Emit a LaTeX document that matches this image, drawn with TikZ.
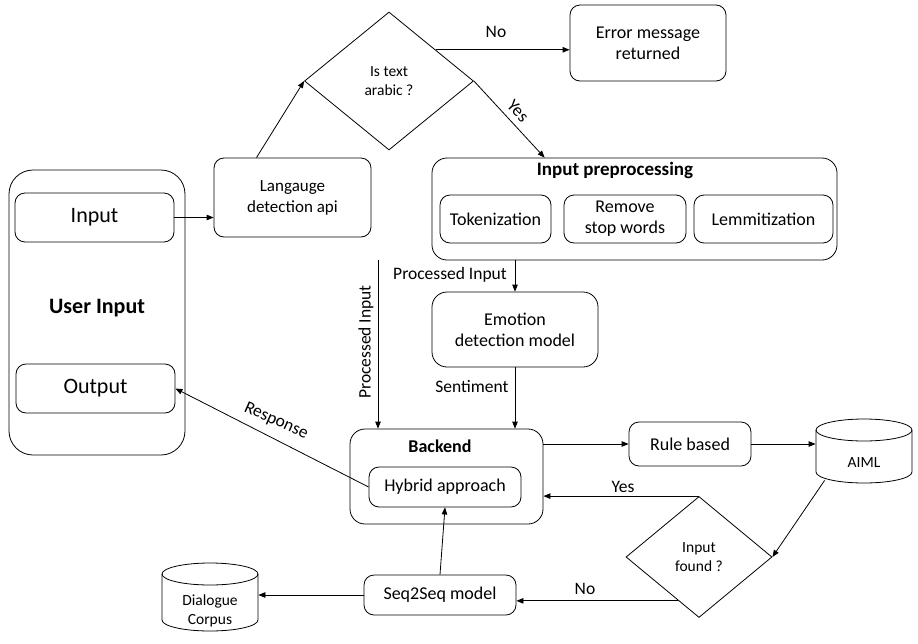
\documentclass[tikz,border=0pt]{standalone}
\usepackage{fontspec}
\setmainfont{Carlito}
\usetikzlibrary{shapes.geometric,arrows.meta,calc}
\newcommand\fsz[1]{\fontsize{#1}{#1*1.18}\selectfont}
\tikzset{
  box/.style={draw, rounded corners=10pt, align=center, inner sep=0pt, font=\fontsize{18}{21}\selectfont},
  dec/.style={draw, diamond, align=center, inner sep=0pt, font=\fontsize{15.5}{19}\selectfont},
  lbl/.style={font=\fontsize{17.5}{21}\selectfont, inner sep=0pt},
  arr/.style={-{Triangle[length=7pt,width=5.5pt]}},
  cylnode/.style={inner sep=0pt},
}
\begin{document}
\begin{tikzpicture}[x=1pt,y=-1pt,line width=0.8pt]
\useasboundingbox (0,0) rectangle (918,643);
% user input block
\node[box, rounded corners=24pt, minimum width=176, minimum height=285] (user) at (97,312.5) {};
\node[box, minimum width=159, minimum height=49, font=\fontsize{22}{26}\selectfont] (inp) at (94.5,217.5) {Input};
\node[box, minimum width=159, minimum height=49, font=\fontsize{22}{26}\selectfont] (out) at (95.5,388.5) {Output};
\node[font=\fontsize{22}{26}\selectfont\bfseries] (utitle) at (97,308) {User Input};
% language detection
\node[box, minimum width=157, minimum height=79, font=\fontsize{17}{21}\selectfont] (lang) at (292.5,197.5) {Langauge\\detection api};
\node[dec, minimum width=169, minimum height=138] (dia) at (389,81) {Is text\\arabic ?};
\node[box, minimum width=156, minimum height=76] (err) at (648,43) {Error message\\returned};
% preprocessing
\node[box, rounded corners=15pt, minimum width=405, minimum height=102] (prep) at (634.5,209) {};
\node[font=\fontsize{19}{22}\selectfont\bfseries] (ptitle) at (615,170) {Input preprocessing};
\node[box, minimum width=111, minimum height=48] (tok) at (495.5,219) {Tokenization};
\node[box, minimum width=122, minimum height=48] (rem) at (625,219) {Remove\\stop words};
\node[box, minimum width=139, minimum height=48] (lem) at (763.5,219) {Lemmitization};
% emotion
\node[box, rounded corners=15pt, minimum width=166, minimum height=75] (emo) at (515,329.5) {Emotion\\detection model};
% backend
\node[box, rounded corners=15pt, minimum width=193, minimum height=95] (back) at (446.5,476.5) {};
\node[font=\fontsize{18}{21}\selectfont\bfseries] (btitle) at (440,446) {Backend};
\node[box, minimum width=152, minimum height=40] (hyb) at (445,487) {Hybrid approach};
\node[box, minimum width=152, minimum height=40] (seq) at (440,595) {Seq2Seq model};
\node[box, minimum width=122, minimum height=44] (rule) at (690,444) {Rule based};
\node[dec, minimum width=146, minimum height=121] (found) at (699,557) {Input\\found ?};
% cylinders
\node[cylnode, minimum width=96, minimum height=64] (aiml) at (864,451) {};
\draw (816,430) -- (816,472) arc[start angle=180,end angle=360,x radius=48pt,y radius=11pt] -- (912,430);
\draw (864,430) ellipse[x radius=48pt,y radius=11pt];
\node[font=\fontsize{15.5}{19}\selectfont] (aimltext) at (864,463) {AIML};
\node[cylnode, minimum width=96, minimum height=68] (corp) at (210,597) {};
\draw (162,574) -- (162,620) arc[start angle=180,end angle=360,x radius=48pt,y radius=11pt] -- (258,574);
\draw (210,574) ellipse[x radius=48pt,y radius=11pt];
\node[font=\fontsize{15.5}{19}\selectfont, align=center] (corptext) at (210,611) {Dialogue\\Corpus};
% connectors
\draw[arr] (inp.east) -- (inp.east -| lang.west);
\draw[arr] ([xshift=-36]lang.north) -- (dia.west);
\coordinate (dno) at ($(dia.north)!0.55!(dia.east)$);
\draw[arr] (dno) -- (dno -| err.west);
\node[lbl] (nolbl) at (496,32) {No};
\draw[arr] (dia.east) -- ([xshift=113]prep.north west);
\node[lbl, rotate=-47] (yeslbl) at (518,111) {Yes};
\draw[arr] (prep.south -| emo.north) -- (emo.north);
\node[lbl] (pilbl) at (450,275) {Processed Input};
\draw[arr] (emo.south) -- (emo.south |- back.north);
\node[lbl] (sentlbl) at (472,387) {Sentiment};
\coordinate (pi) at (378,260);
\draw[arr] (pi) -- (pi |- back.north);
\node[lbl, rotate=90] (pivlbl) at (366,342) {Processed Input};
\draw[arr] (rule.west -| back.east) -- (rule.west);
\draw[arr] (rule.east) -- (rule.east -| aiml.west);
\draw[arr] ($(aiml.south west)+(9,-3)$) -- (found.east);
\draw[arr] (found.north) -- (found.north -| back.east);
\node[lbl] (yes2) at (623,487) {Yes};
\coordinate (fno) at ($(found.south)!0.28!(found.west)$);
\draw[arr] (fno) -- (fno -| seq.east);
\node[lbl] (no2) at (585,589) {No};
\draw[arr] (seq.north) -- (hyb.south);
\draw[arr] (seq.west) -- (seq.west -| corp.east);
\draw[arr] (hyb.west) -- (out.east);
\node[lbl, rotate=-24] (resp) at (276,421) {Response};
\end{tikzpicture}
\end{document}
